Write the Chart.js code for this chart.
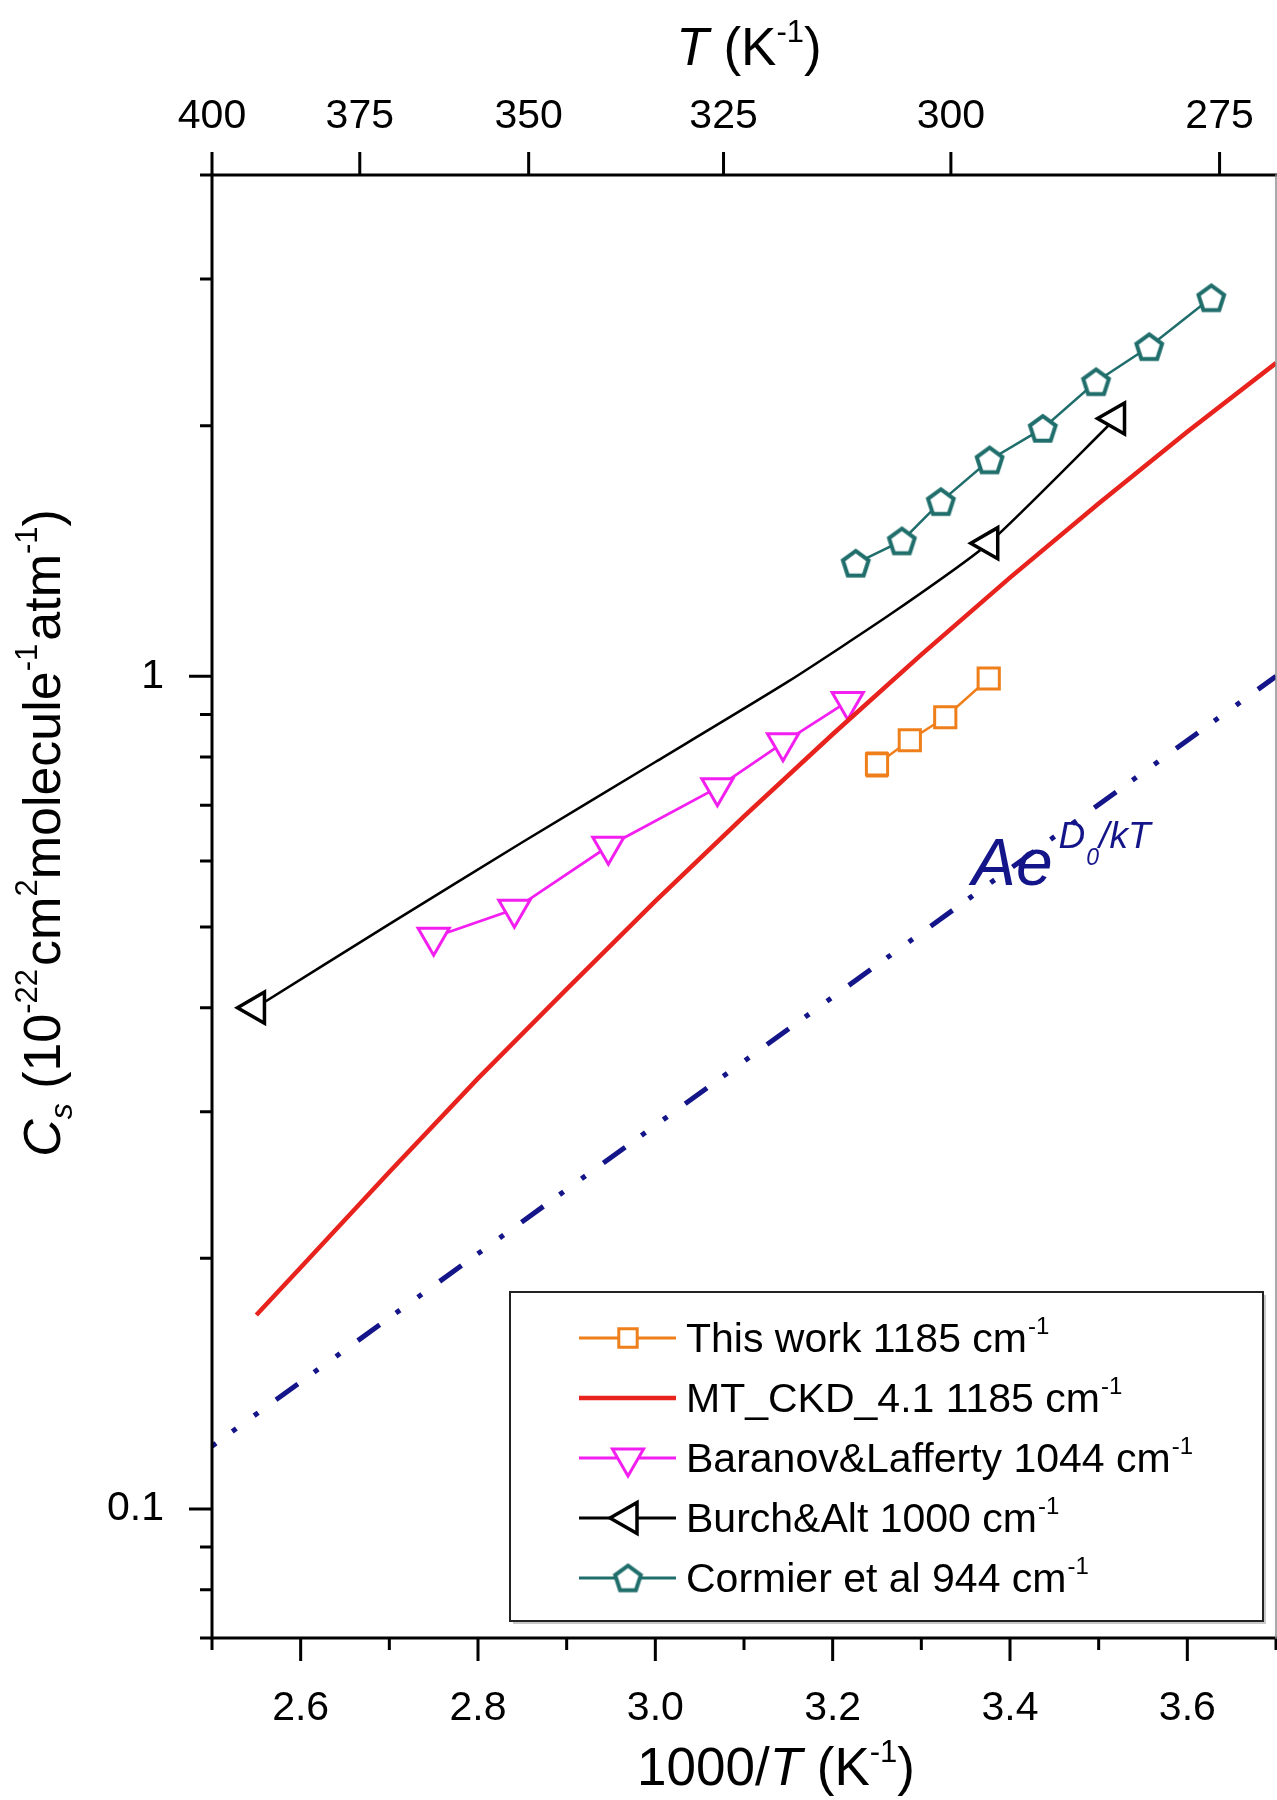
<!DOCTYPE html>
<html>
<head>
<meta charset="utf-8">
<title>Cs vs 1000/T</title>
<script src="https://cdn.jsdelivr.net/npm/chart.js@4.4.1/dist/chart.umd.min.js"></script>
<style>
  html, body { margin: 0; padding: 0; background: #fff; overflow: hidden; }
  #wrap { width: 1277px; height: 1800px; }
</style>
</head>
<body>
<div id="wrap"><canvas id="chartCs" width="1277" height="1800"></canvas></div>
<script>
// values (x = 1000/T in K^-1, y = Cs)
const thisWorkX = [3.250, 3.287, 3.327, 3.376];
const thisWorkY = [0.784, 0.838, 0.893, 0.994];
const thisWorkErr = [0.026, 0.012, 0.012, 0.010];

const mtckdX = [2.55, 2.6, 2.7, 2.8, 2.9, 3.0, 3.1, 3.2, 3.3, 3.4, 3.5, 3.6, 3.7];
const mtckdY = [0.171, 0.195, 0.254, 0.329, 0.421, 0.537, 0.679, 0.852, 1.062, 1.314, 1.613, 1.966, 2.378];

const baranovX = [2.750, 2.841, 2.947, 3.070, 3.144, 3.217];
const baranovY = [0.486, 0.525, 0.625, 0.735, 0.832, 0.933];

const burchX = [2.549, 2.70, 2.85, 3.00, 3.15, 3.27, 3.376, 3.519];
const burchY = [0.400, 0.504, 0.632, 0.789, 0.986, 1.197, 1.445, 2.040];
const burchMarkers = [0, 6, 7];

const cormierX = [3.226, 3.278, 3.322, 3.377, 3.437, 3.497, 3.557, 3.627];
const cormierY = [1.367, 1.454, 1.621, 1.819, 1.985, 2.258, 2.488, 2.848];

const fitX = [2.5, 3.7];
const fitY = [0.119, 1.0];

const xTicks = [2.5, 2.6, 2.7, 2.8, 2.9, 3.0, 3.1, 3.2, 3.3, 3.4, 3.5, 3.6, 3.7];
const xLabeled = [2.6, 2.8, 3.0, 3.2, 3.4, 3.6];
const tempTicks = [400, 375, 350, 325, 300, 275];
const yTicks = [0.07, 0.08, 0.09, 0.1, 0.2, 0.3, 0.4, 0.5, 0.6, 0.7, 0.8, 0.9, 1, 2, 3, 4];
const yLabeled = [0.1, 1];

const legendLabels = ['This work 1185 cm', 'MT_CKD_4.1 1185 cm', 'Baranov&Lafferty 1044 cm',
                      'Burch&Alt 1000 cm', 'Cormier et al 944 cm'];

const FONT = '"Liberation Sans", Arial, Helvetica, sans-serif';
const ORANGE = '#ef7f1a', RED = '#e8221c', MAGENTA = '#f21ff0', TEAL = '#1f6e6b', NAVY = '#15158a';

function pts(xs, ys) { return xs.map((x, i) => ({ x: x, y: ys[i] })); }

// hollow pentagon marker (Chart.js has no pentagon style)
function makePentagon(color, R, lw) {
    const size = Math.ceil(2 * R + lw + 4);
    const c = document.createElement('canvas');
    c.width = size; c.height = size;
    const g = c.getContext('2d');
    const cx = size / 2, cy = size / 2 + R * 0.09;
    g.beginPath();
    for (let k = 0; k < 5; k++) {
        const a = -Math.PI / 2 + k * 2 * Math.PI / 5;
        const px = cx + R * Math.cos(a), py = cy + R * Math.sin(a);
        if (k === 0) g.moveTo(px, py); else g.lineTo(px, py);
    }
    g.closePath();
    g.fillStyle = '#fff'; g.fill();
    g.lineWidth = lw; g.strokeStyle = color; g.lineJoin = 'miter'; g.stroke();
    return c;
}
const pentagon = makePentagon(TEAL, 13.5, 4);

// draw text runs with super/subscripts; each run: {t, s, it, dy, dx}
function runsWidth(ctx, runs) {
    let w = 0;
    runs.forEach(r => {
        ctx.font = (r.it ? 'italic ' : '') + r.s + 'px ' + FONT;
        w += ctx.measureText(r.t).width + (r.dx || 0);
    });
    return w;
}
function drawRuns(ctx, runs, x, y, align) {
    let cx = x;
    if (align === 'center') cx = x - runsWidth(ctx, runs) / 2;
    ctx.textAlign = 'left';
    ctx.textBaseline = 'alphabetic';
    runs.forEach(r => {
        ctx.font = (r.it ? 'italic ' : '') + r.s + 'px ' + FONT;
        cx += (r.dx || 0);
        ctx.fillText(r.t, cx, y + (r.dy || 0));
        cx += ctx.measureText(r.t).width;
    });
}

function noPad(s) { s.paddingLeft = 0; s.paddingRight = 0; s.paddingTop = 0; s.paddingBottom = 0; }

const decorPlugin = {
    id: 'decor',
    beforeDatasetsDraw(chart) {
        // error bars of "This work"
        const ctx = chart.ctx, xs = chart.scales.x, ys = chart.scales.y;
        ctx.save();
        ctx.strokeStyle = ORANGE; ctx.lineWidth = 2;
        thisWorkX.forEach((xv, i) => {
            const px = xs.getPixelForValue(xv);
            const y1 = ys.getPixelForValue(thisWorkY[i] - thisWorkErr[i]);
            const y2 = ys.getPixelForValue(thisWorkY[i] + thisWorkErr[i]);
            ctx.beginPath();
            ctx.moveTo(px, y1); ctx.lineTo(px, y2);
            ctx.moveTo(px - 11, y1); ctx.lineTo(px + 11, y1);
            ctx.moveTo(px - 11, y2); ctx.lineTo(px + 11, y2);
            ctx.stroke();
        });
        ctx.restore();
    },
    afterDatasetsDraw(chart) {
        const ctx = chart.ctx, a = chart.chartArea;
        const xs = chart.scales.x, x2 = chart.scales.x2, ys = chart.scales.y;
        ctx.save();
        ctx.strokeStyle = '#000';
        ctx.lineWidth = 3;
        ctx.lineCap = 'butt';
        ctx.beginPath();
        xTicks.forEach(v => {
            const px = xs.getPixelForValue(v);
            const len = xLabeled.some(l => Math.abs(l - v) < 1e-6) ? 23 : 12;
            ctx.moveTo(px, a.bottom); ctx.lineTo(px, a.bottom + len);
        });
        tempTicks.forEach(t => {
            const px = x2.getPixelForValue(1000 / t);
            ctx.moveTo(px, a.top); ctx.lineTo(px, a.top - 23);
        });
        yTicks.forEach(v => {
            const py = ys.getPixelForValue(v);
            const len = yLabeled.includes(v) ? 23 : 12;
            ctx.moveTo(a.left, py); ctx.lineTo(a.left - len, py);
        });
        ctx.stroke();
        ctx.lineCap = 'square';
        ctx.beginPath();
        ctx.moveTo(a.right, a.top); ctx.lineTo(a.left, a.top);
        ctx.lineTo(a.left, a.bottom); ctx.lineTo(a.right, a.bottom);
        ctx.stroke();
        ctx.lineWidth = 1.5; ctx.strokeStyle = '#8c8c8c';
        ctx.beginPath(); ctx.moveTo(a.right, a.top); ctx.lineTo(a.right, a.bottom); ctx.stroke();
        ctx.restore();
    },
    afterDraw(chart) {
        const ctx = chart.ctx, xs = chart.scales.x, ys = chart.scales.y;
        ctx.save();
        ctx.fillStyle = '#000';
        // axis titles
        drawRuns(ctx, [{ t: '1000/', s: 53 }, { t: 'T', s: 53, it: true }, { t: ' (K', s: 53 },
                       { t: '-1', s: 31, dy: -23 }, { t: ')', s: 53 }], 776, 1785, 'center');
        drawRuns(ctx, [{ t: 'T', s: 53, it: true }, { t: ' (K', s: 53 },
                       { t: '-1', s: 31, dy: -23 }, { t: ')', s: 53 }], 749, 65, 'center');
        ctx.save();
        ctx.translate(60, 833);
        ctx.rotate(-Math.PI / 2);
        drawRuns(ctx, [{ t: 'C', s: 52, it: true }, { t: 's', s: 32, it: true, dy: 12 },
                       { t: ' (10', s: 52 }, { t: '-22', s: 31, dy: -23 }, { t: 'cm', s: 52, dx: 3 },
                       { t: '2', s: 31, dy: -23 }, { t: 'molecule', s: 52 }, { t: '-1', s: 31, dy: -23 },
                       { t: 'atm', s: 52, dx: 3 }, { t: '-1', s: 31, dy: -23 }, { t: ')', s: 52 }], 0, 0, 'center');
        ctx.restore();

        // fit label
        ctx.fillStyle = NAVY;
        drawRuns(ctx, [{ t: 'Ae', s: 66, it: true }, { t: 'D', s: 37, it: true, dy: -37, dx: 6 },
                       { t: '0', s: 23, it: true, dy: -20, dx: 1 }, { t: '/kT', s: 37, it: true, dy: -37 }],
                 xs.getPixelForValue(3.357), ys.getPixelForValue(0.562), 'left');

        // legend box
        const L = 510, T = 1292, R = 1263, B = 1621;
        ctx.fillStyle = '#c8c8c8';
        ctx.fillRect(L + 3, T + 3, R - L, B - T);
        ctx.fillStyle = '#fff';
        ctx.fillRect(L, T, R - L, B - T);
        ctx.strokeStyle = '#222'; ctx.lineWidth = 2;
        ctx.strokeRect(L, T, R - L, B - T);
        chart.data.datasets.forEach((ds, i) => {
            if (i >= legendLabels.length) return;
            const y = 1338 + 60 * i;
            ctx.strokeStyle = ds.borderColor; ctx.lineWidth = Math.max(ds.borderWidth, 3);
            ctx.beginPath(); ctx.moveTo(579, y); ctx.lineTo(676, y); ctx.stroke();
            if (ds.legendMarker && Chart.helpers && Chart.helpers.drawPoint) {
                ctx.fillStyle = '#fff';
                ctx.strokeStyle = ds.pointBorderColor;
                ctx.lineWidth = ds.pointBorderWidth;
                Chart.helpers.drawPoint(ctx, {
                    pointStyle: ds.pointStyle, radius: ds.legendMarker,
                    rotation: ds.pointRotation || 0, borderWidth: ds.pointBorderWidth
                }, 628, y);
            }
            ctx.fillStyle = '#000';
            drawRuns(ctx, [{ t: legendLabels[i], s: 41 }, { t: '-1', s: 24, dy: -18, dx: 1 }], 686, y + 14, 'left');
        });
        ctx.restore();
    }
};

const tickFont = { family: FONT, size: 41 };

new Chart(document.getElementById('chartCs').getContext('2d'), {
    type: 'line',
    data: {
        datasets: [{
            label: legendLabels[0],
            data: pts(thisWorkX, thisWorkY),
            borderColor: ORANGE, borderWidth: 2.5,
            pointStyle: 'rect', pointRadius: 15, pointBorderWidth: 3,
            pointBorderColor: ORANGE, pointBackgroundColor: '#fff', legendMarker: 13
        }, {
            label: legendLabels[1],
            data: pts(mtckdX, mtckdY),
            borderColor: RED, borderWidth: 4.5, pointRadius: 0
        }, {
            label: legendLabels[2],
            data: pts(baranovX, baranovY),
            borderColor: MAGENTA, borderWidth: 2.8,
            pointStyle: 'triangle', pointRotation: 180, pointRadius: 18, pointBorderWidth: 3,
            pointBorderColor: MAGENTA, pointBackgroundColor: '#fff', legendMarker: 18
        }, {
            label: legendLabels[3],
            data: pts(burchX, burchY),
            borderColor: '#000', borderWidth: 2.5, tension: 0.2,
            pointStyle: 'triangle', pointRotation: -90,
            pointRadius: ctx => burchMarkers.includes(ctx.dataIndex) ? 18 : 0,
            pointBorderWidth: 3.5, pointBorderColor: '#000', pointBackgroundColor: '#fff', legendMarker: 18
        }, {
            label: legendLabels[4],
            data: pts(cormierX, cormierY),
            borderColor: TEAL, borderWidth: 2.5,
            pointStyle: pentagon, pointRadius: 15, pointBorderWidth: 4,
            pointBorderColor: TEAL, pointBackgroundColor: '#fff', legendMarker: 15
        }, {
            label: 'Ae^(D0/kT)',
            data: pts(fitX, fitY),
            borderColor: NAVY, borderWidth: 5, pointRadius: 0,
            borderDash: [27, 20, 5, 22, 5, 22], borderDashOffset: 22
        }]
    },
    options: {
        responsive: false,
        animation: false,
        devicePixelRatio: 1,
        layout: { autoPadding: false, padding: { left: 0, right: 1, top: 0, bottom: 0 } },
        plugins: { legend: { display: false }, tooltip: { enabled: false } },
        scales: {
            x: {
                type: 'linear', position: 'bottom', min: 2.5, max: 3.7,
                grid: { display: false }, border: { display: false },
                afterBuildTicks: s => { s.ticks = xTicks.map(v => ({ value: v })); },
                afterFit: s => { s.height = 162; noPad(s); },
                ticks: {
                    autoSkip: false, maxRotation: 0, padding: 38, color: '#000', font: tickFont,
                    callback: v => xLabeled.some(l => Math.abs(l - v) < 1e-6) ? v.toFixed(1) : ''
                }
            },
            x2: {
                type: 'linear', position: 'top', min: 2.5, max: 3.7,
                grid: { display: false }, border: { display: false },
                afterBuildTicks: s => { s.ticks = tempTicks.map(t => ({ value: 1000 / t })); },
                afterFit: s => { s.height = 175; noPad(s); },
                ticks: {
                    autoSkip: false, maxRotation: 0, padding: 26, color: '#000', font: tickFont,
                    callback: v => String(Math.round(1000 / v))
                }
            },
            y: {
                type: 'logarithmic', position: 'left', min: 0.07, max: 4,
                grid: { display: false }, border: { display: false },
                afterBuildTicks: s => { s.ticks = yTicks.map(v => ({ value: v })); },
                afterFit: s => { s.width = 212; noPad(s); },
                ticks: {
                    autoSkip: false, padding: 40, color: '#000', font: tickFont,
                    callback: v => yLabeled.includes(v) ? String(v) : ''
                }
            }
        }
    },
    plugins: [decorPlugin]
});
</script>
</body>
</html>
